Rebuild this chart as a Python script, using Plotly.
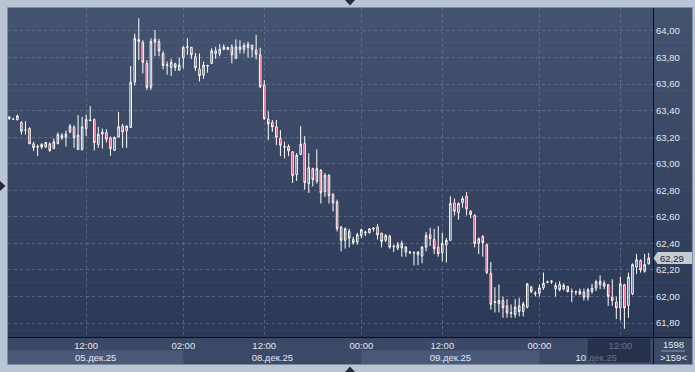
import plotly.graph_objects as go

W, H = 695, 372

# ---------------- data (30-min candles) ----------------
opens = [63.34, 63.335, 63.33, 63.31, 63.255, 63.265, 63.15, 63.125, 63.125, 63.127,
         63.15, 63.115, 63.152, 63.215, 63.20, 63.24, 63.273, 63.107, 63.107, 63.266,
         63.33, 63.333, 63.145, 63.223, 63.235, 63.195, 63.10, 63.20, 63.283, 63.248,
         63.273, 63.617, 63.937, 63.915, 63.756, 63.575, 63.915, 63.92, 63.83, 63.74,
         63.726, 63.753, 63.705, 63.798, 63.877, 63.877, 63.806, 63.713, 63.668, 63.735,
         63.756, 63.83, 63.83, 63.862, 63.862, 63.88, 63.794, 63.862, 63.862, 63.875,
         63.89, 63.857, 63.82, 63.592, 63.336, 63.31, 63.278, 63.19, 63.125, 63.13,
         63.09, 62.918, 63.07, 63.152, 62.85, 62.963, 62.868, 62.95, 62.79, 62.913,
         62.767, 62.712, 62.523, 62.423, 62.49, 62.43, 62.41, 62.46, 62.48, 62.48,
         62.51, 62.523, 62.477, 62.423, 62.453, 62.375, 62.365, 62.40, 62.335, 62.33,
         62.33, 62.315, 62.305, 62.372, 62.465, 62.43, 62.372, 62.33, 62.39, 62.423,
         62.705, 62.632, 62.707, 62.755, 62.642, 62.61, 62.40, 62.453, 62.39,
         62.175, 61.955, 61.945, 61.97, 61.93, 61.873, 61.865, 61.93, 61.887, 61.92,
         62.07, 62.02, 62.025, 62.065, 62.105, 62.11, 62.058, 62.09, 62.058, 62.075,
         62.035, 62.033, 62.04, 62.033, 61.995, 62.038, 62.063, 62.09, 62.10, 62.088,
         61.995, 61.957, 61.915, 62.088, 61.932, 62.02, 62.222, 62.27, 62.19, 62.247]

highs = [63.36, 63.345, 63.37, 63.32, 63.32, 63.275, 63.165, 63.145, 63.155, 63.165,
         63.16, 63.19, 63.235, 63.23, 63.25, 63.30, 63.29, 63.366, 63.353, 63.37,
         63.434, 63.34, 63.278, 63.265, 63.26, 63.205, 63.205, 63.39, 63.30, 63.29,
         63.736, 63.98, 64.096, 63.93, 63.78, 63.945, 64.008, 63.94, 63.85, 63.77,
         63.79, 63.76, 63.80, 63.885, 63.945, 63.88, 63.835, 63.83, 63.77, 63.745,
         63.87, 63.88, 63.90, 63.90, 63.88, 63.90, 63.937, 63.93, 63.91, 63.92,
         63.90, 63.97, 63.874, 63.63, 63.396, 63.33, 63.33, 63.253, 63.166, 63.145,
         63.095, 63.08, 63.283, 63.208, 63.08, 62.97, 63.107, 62.96, 62.93, 62.92,
         62.78, 62.73, 62.53, 62.52, 62.51, 62.45, 62.48, 62.51, 62.495, 62.515,
         62.52, 62.545, 62.48, 62.47, 62.465, 62.39, 62.41, 62.42, 62.38, 62.34,
         62.34, 62.34, 62.38, 62.485, 62.518, 62.51, 62.53, 62.48, 62.44, 62.755,
         62.74, 62.71, 62.755, 62.787, 62.65, 62.62, 62.445, 62.46, 62.40,
         62.26, 62.07, 62.09, 62.00, 61.98, 61.94, 61.98, 61.99, 61.96, 62.10,
         62.08, 62.04, 62.09, 62.18, 62.12, 62.125, 62.105, 62.115, 62.10, 62.08,
         62.06, 62.045, 62.06, 62.06, 62.065, 62.095, 62.126, 62.16, 62.12, 62.095,
         62.13, 62.0, 62.15, 62.095, 62.18, 62.25, 62.32, 62.28, 62.32, 62.327]

lows = [63.33, 63.33, 63.33, 63.22, 63.22, 63.15, 63.095, 63.057, 63.11, 63.12,
        63.09, 63.11, 63.145, 63.18, 63.13, 63.23, 63.12, 63.105, 63.10, 63.21,
        63.32, 63.10, 63.12, 63.115, 63.16, 63.06, 63.10, 63.20, 63.12, 63.12,
        63.27, 63.59, 63.78, 63.68, 63.555, 63.555, 63.81, 63.81, 63.71, 63.67,
        63.66, 63.70, 63.70, 63.718, 63.82, 63.79, 63.70, 63.62, 63.64, 63.685,
        63.75, 63.79, 63.81, 63.855, 63.855, 63.756, 63.79, 63.83, 63.83, 63.80,
        63.80, 63.786, 63.57, 63.33, 63.177, 63.24, 63.14, 63.057, 63.04, 63.057,
        62.855, 62.87, 63.065, 62.805, 62.78, 62.83, 62.85, 62.70, 62.75, 62.70,
        62.64, 62.49, 62.34, 62.36, 62.37, 62.39, 62.39, 62.44, 62.455, 62.475,
        62.49, 62.43, 62.37, 62.41, 62.36, 62.335, 62.35, 62.30, 62.30, 62.32,
        62.235, 62.235, 62.25, 62.34, 62.38, 62.32, 62.30, 62.265, 62.255, 62.42,
        62.61, 62.58, 62.67, 62.61, 62.59, 62.37, 62.32, 62.30, 62.17,
        61.90, 61.88, 61.88, 61.84, 61.84, 61.84, 61.84, 61.85, 61.85, 61.91,
        62.025, 62.00, 62.00, 62.05, 62.10, 62.095, 62.00, 62.04, 62.045, 62.03,
        61.957, 62.01, 62.01, 61.97, 61.97, 62.02, 62.04, 62.055, 62.055, 61.93,
        61.93, 61.83, 61.82, 61.757, 61.84, 62.01, 62.17, 62.18, 62.18, 62.24]

closes = [63.35, 63.335, 63.36, 63.245, 63.255, 63.15, 63.12, 63.13, 63.145, 63.16,
          63.10, 63.165, 63.22, 63.195, 63.223, 63.283, 63.195, 63.215, 63.278, 63.333,
          63.325, 63.16, 63.223, 63.238, 63.185, 63.115, 63.198, 63.278, 63.24, 63.283,
          63.613, 63.945, 63.92, 63.764, 63.575, 63.92, 63.937, 63.85, 63.74, 63.745,
          63.764, 63.726, 63.743, 63.877, 63.88, 63.82, 63.723, 63.663, 63.743, 63.74,
          63.85, 63.85, 63.862, 63.88, 63.877, 63.82, 63.88, 63.88, 63.89, 63.90,
          63.862, 63.824, 63.58, 63.34, 63.30, 63.278, 63.20, 63.14, 63.13, 63.097,
          62.91, 63.064, 63.147, 62.858, 62.97, 62.88, 62.963, 62.782, 62.913, 62.76,
          62.705, 62.51, 62.423, 62.51, 62.44, 62.405, 62.465, 62.503, 62.485, 62.51,
          62.515, 62.465, 62.415, 62.46, 62.372, 62.38, 62.39, 62.365, 62.372, 62.335,
          62.33, 62.335, 62.372, 62.46, 62.435, 62.36, 62.322, 62.40, 62.423, 62.70,
          62.642, 62.70, 62.737, 62.66, 62.617, 62.40, 62.435, 62.405, 62.18,
          61.94, 61.96, 61.97, 61.915, 61.877, 61.877, 61.92, 61.887, 61.945, 62.095,
          62.038, 62.025, 62.065, 62.10, 62.11, 62.115, 62.083, 62.05, 62.083, 62.038,
          62.038, 62.036, 62.02, 61.995, 62.05, 62.063, 62.11, 62.115, 62.078, 62.0,
          61.97, 61.915, 62.095, 61.915, 62.146, 62.24, 62.277, 62.20, 62.24, 62.29]

bar_index = list(range(len(closes)))

time_tick_idx = [19, 43, 63, 87, 107, 131, 151]
time_tick_text = ["12:00", "02:00", "12:00", "00:00", "12:00", "00:00", "12:00"]
day_start_idx = [43, 87, 131]
day_labels = ["05.дек.25", "08.дек.25", "09.дек.25", "10.дек.25"]
price_ticks = [61.8, 62.0, 62.2, 62.4, 62.6, 62.8, 63.0, 63.2, 63.4, 63.6, 63.8, 64.0]
x_range = [-0.32, 159.07]
y_range = [61.695, 64.173]
count_top = "1598"
count_bottom = ">159<"

# ---------------- helpers (pixel -> paper) ----------------
def fx(p):
    return p / W

def fy(p):
    return 1 - p / H

PL, PR, PT, PB = 8, 653, 8, 337      # plot area in px
AR = 692                              # right edge of axis panel
BB = 364                              # bottom of time panel

FONT = "Liberation Sans, Arial, sans-serif"
TXT = "#e2e7ef"
GRID = "rgba(125,140,170,0.5)"

fig = go.Figure()
fig.add_trace(go.Candlestick(
    x=bar_index, open=opens, high=highs, low=lows, close=closes,
    increasing=dict(line=dict(color="#ffffff", width=1), fillcolor="rgba(0,0,0,0)"),
    decreasing=dict(line=dict(color="#ffffff", width=1), fillcolor="#dc0a3a"),
    whiskerwidth=0, hoverinfo="skip", showlegend=False))
# invisible helper trace so the date axis gets drawn
fig.add_trace(go.Scatter(x=[x_range[0]], y=[y_range[0]], xaxis="x2", mode="markers",
                         marker=dict(opacity=0), hoverinfo="skip", showlegend=False))

shapes = []
# gradient background of plot + price axis
N = 48
top_c = (68, 83, 112)
bot_c = (44, 57, 86)
for k in range(N):
    t = k / (N - 1)
    c = tuple(round(top_c[i] + (bot_c[i] - top_c[i]) * t) for i in range(3))
    y0 = PT + (PB - PT) * k / N
    y1 = PT + (PB - PT) * (k + 1) / N + 0.6
    shapes.append(dict(type="rect", xref="paper", yref="paper", layer="below",
                       x0=fx(PL), x1=fx(AR), y0=fy(min(y1, PB)), y1=fy(y0),
                       line=dict(width=0), fillcolor="rgb(%d,%d,%d)" % c))
# bottom time panel
shapes.append(dict(type="rect", xref="paper", yref="paper", layer="below",
                   x0=fx(PL), x1=fx(AR), y0=fy(BB), y1=fy(PB),
                   line=dict(width=0), fillcolor="#3b4966"))
# date bands (lighter for alternate days)
edges = [x_range[0]] + day_start_idx + [x_range[1]]
for k in range(len(day_labels)):
    if k % 2 == 0:
        shapes.append(dict(type="rect", xref="x", yref="paper", layer="below",
                           x0=edges[k], x1=edges[k + 1], y0=fy(BB), y1=fy(350.5),
                           line=dict(width=0), fillcolor="#4a5977"))
# dimmed overlay at the right end of the time panel
shapes.append(dict(type="rect", xref="paper", yref="paper", layer="above",
                   x0=fx(587), x1=fx(651), y0=fy(363), y1=fy(338),
                   line=dict(width=1, color="rgba(80,95,125,0.6)"),
                   fillcolor="rgba(28,36,60,0.62)"))
# separator lines
shapes.append(dict(type="line", xref="paper", yref="paper", layer="above",
                   x0=fx(653.5), x1=fx(653.5), y0=fy(BB), y1=fy(PT),
                   line=dict(width=1, color="#0b0f18")))
shapes.append(dict(type="line", xref="paper", yref="paper", layer="above",
                   x0=fx(PL), x1=fx(AR), y0=fy(337.5), y1=fy(337.5),
                   line=dict(width=1, color="#0b0f18")))
shapes.append(dict(type="line", xref="paper", yref="paper", layer="above",
                   x0=fx(661), x1=fx(685), y0=fy(351), y1=fy(351),
                   line=dict(width=1, color="#8e9ab0")))
# frame outline
shapes.append(dict(type="rect", xref="paper", yref="paper", layer="above",
                   x0=fx(7.5), x1=fx(692.5), y0=fy(364.5), y1=fy(7.5),
                   line=dict(width=1, color="#7f8ca3"), fillcolor="rgba(0,0,0,0)"))
# price label pointer box at last close
last = closes[-1]
ppu = (PB - PT) / (y_range[1] - y_range[0])
d = 6.0 / ppu
shapes.append(dict(type="path", xref="paper", yref="y", layer="above",
                   path="M %f,%f L %f,%f L %f,%f L %f,%f L %f,%f Z" % (
                       fx(653.5), last, fx(657.5), last + d, fx(692), last + d,
                       fx(692), last - d, fx(657.5), last - d),
                   line=dict(width=0), fillcolor="#c6ccd5"))
# frame triangles
tri = "#222a3a"
shapes.append(dict(type="path", xref="paper", yref="paper", layer="above",
                   path="M %f,%f L %f,%f L %f,%f Z" % (fx(345), fy(0), fx(355), fy(0), fx(350), fy(5.5)),
                   line=dict(width=0), fillcolor=tri))
shapes.append(dict(type="path", xref="paper", yref="paper", layer="above",
                   path="M %f,%f L %f,%f L %f,%f Z" % (fx(345), fy(372), fx(355), fy(372), fx(350), fy(366.5)),
                   line=dict(width=0), fillcolor=tri))
shapes.append(dict(type="path", xref="paper", yref="paper", layer="above",
                   path="M %f,%f L %f,%f L %f,%f Z" % (fx(0), fy(181), fx(0), fy(191), fx(5.5), fy(186)),
                   line=dict(width=0), fillcolor=tri))

day_centers = [(edges[k] + edges[k + 1]) / 2 for k in range(len(day_labels))]

annotations = [
    dict(xref="paper", yref="y", x=fx(658), y=last, xanchor="left", yanchor="middle",
         text=("%.2f" % last).replace(".", ","), showarrow=False,
         font=dict(family=FONT, size=9.5, color="#1b2232")),
    dict(xref="paper", yref="paper", x=fx(673), y=fy(344.5), xanchor="center", yanchor="middle",
         text=count_top, showarrow=False, font=dict(family=FONT, size=9.5, color=TXT)),
    dict(xref="paper", yref="paper", x=fx(673), y=fy(357.5), xanchor="center", yanchor="middle",
         text=count_bottom, showarrow=False, font=dict(family=FONT, size=9.5, color=TXT)),
]

fig.update_layout(
    width=W, height=H, margin=dict(l=0, r=0, t=0, b=0),
    paper_bgcolor="#b9c5d5", plot_bgcolor="rgba(0,0,0,0)",
    separators=", ", boxgap=0.45, showlegend=False,
    font=dict(family=FONT, size=9.5, color=TXT),
    shapes=shapes, annotations=annotations,
    xaxis=dict(domain=[fx(PL), fx(PR)], range=x_range, tickmode="array",
               tickvals=time_tick_idx, ticktext=time_tick_text,
               showgrid=True, gridcolor=GRID, griddash="3px,3px", gridwidth=1,
               zeroline=False, showline=False, ticks="", ticklabelstandoff=1,
               rangeslider=dict(visible=False), fixedrange=True,
               tickfont=dict(family=FONT, size=9.5, color=TXT)),
    xaxis2=dict(overlaying="x", anchor="free", position=fy(350), side="bottom",
                range=x_range, tickmode="array", tickvals=day_centers, ticktext=day_labels,
                showgrid=False, zeroline=False, showline=False, ticks="",
                ticklabelstandoff=0, fixedrange=True,
                tickfont=dict(family=FONT, size=9.5, color=TXT)),
    yaxis=dict(domain=[fy(PB), fy(PT)], range=y_range, side="right", anchor="x",
               tickmode="array", tickvals=price_ticks, tickformat=".2f",
               showgrid=True, gridcolor=GRID, griddash="3px,3px", gridwidth=1,
               zeroline=False, showline=False, ticks="", ticklabelstandoff=2,
               fixedrange=True, tickfont=dict(family=FONT, size=9.5, color=TXT)),
)

fig.write_html("out.html")
